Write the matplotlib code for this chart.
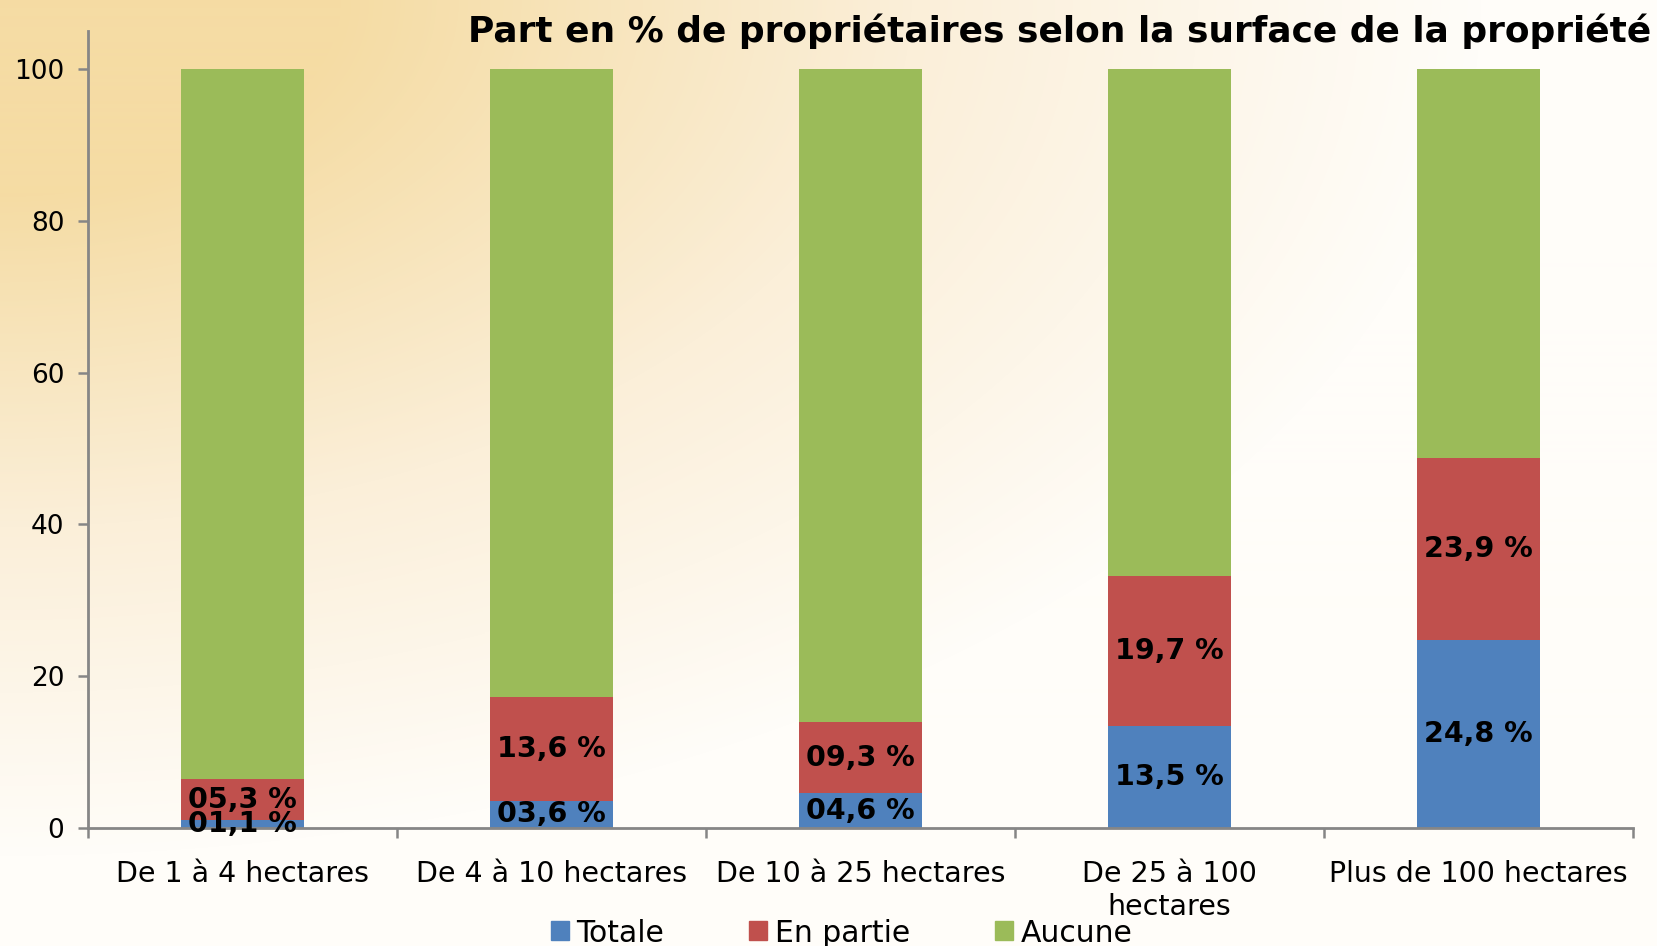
import numpy as np
import matplotlib.pyplot as plt
from matplotlib.colors import LinearSegmentedColormap
from matplotlib.patches import Patch

# Data
categories = ['De 1 à 4 hectares', 'De 4 à 10 hectares', 'De 10 à 25 hectares',
              'De 25 à 100\nhectares', 'Plus de 100 hectares']
totale = [1.1, 3.6, 4.6, 13.5, 24.8]
en_partie = [5.3, 13.6, 9.3, 19.7, 23.9]
series_names = ['Totale', 'En partie', 'Aucune']
colors = ['#4F81BD', '#C0504D', '#9BBB59']

aucune = [100 - t - p for t, p in zip(totale, en_partie)]

W, H = 1657, 946
fig = plt.figure(figsize=(W / 100, H / 100), dpi=100)

# background gradient (tan in the top-left corner fading to off-white)
bg = fig.add_axes([0, 0, 1, 1], zorder=-10)
yy, xx = np.mgrid[0:H, 0:W]
d = np.sqrt((xx / 1350.0) ** 2 + (yy / 780.0) ** 2)
d = np.clip((d - 0.25) / 0.85, 0, 1)
cmap = LinearSegmentedColormap.from_list('bg', ['#F5DCA4', '#FBEFD9', '#FFFDF9'])
bg.imshow(d, cmap=cmap, aspect='auto', extent=[0, 1, 0, 1], origin='upper')
bg.axis('off')

ax = fig.add_axes([88 / W, 1 - 828 / H, (1633 - 88) / W, (828 - 31) / H])
ax.patch.set_alpha(0)

x = np.arange(len(categories))
width = 0.395
b1 = ax.bar(x, totale, width, color=colors[0], label=series_names[0])
b2 = ax.bar(x, en_partie, width, bottom=totale, color=colors[1], label=series_names[1])
bottom3 = [t + p for t, p in zip(totale, en_partie)]
b3 = ax.bar(x, aucune, width, bottom=bottom3, color=colors[2], label=series_names[2])

def fmt(v):
    s = f'{v:04.1f}'.replace('.', ',')
    return s + ' %'

for bars, vals in [(b1, totale), (b2, en_partie)]:
    ax.bar_label(bars, labels=[fmt(v) for v in vals], label_type='center',
                 fontsize=20.5, fontweight='bold', color='black')

ax.set_xlim(-0.5, len(categories) - 0.5)
ax.set_ylim(0, 105)
ax.set_yticks([0, 20, 40, 60, 80, 100])
ax.set_xticks(x)
ax.set_xticklabels(categories, fontsize=20.5, linespacing=1.25)
ax.set_xticks(np.arange(len(categories) + 1) - 0.5, minor=True)
ax.tick_params(axis='x', which='major', length=0, pad=23)
ax.tick_params(axis='x', which='minor', length=7, width=1.8, color='#868686', direction='out')
ax.tick_params(axis='y', length=7, width=1.8, color='#868686', labelsize=19, pad=10)

for side in ['top', 'right']:
    ax.spines[side].set_visible(False)
for side in ['left', 'bottom']:
    ax.spines[side].set_color('#868686')
    ax.spines[side].set_linewidth(2)

# title, right aligned near the top edge
title = fig.text(1651 / W, 1 - 31 / H,
                 'Part en % de propriétaires selon la surface de la propriété',
                 ha='right', va='center', fontsize=24, fontweight='heavy')
fig.canvas.draw()
tw = title.get_window_extent().width
title.set_fontsize(24 * 1183 / tw)

handles = [Patch(color=c) for c in colors]
fig.legend(handles, series_names, loc='center left', ncol=3, frameon=False,
           bbox_to_anchor=(551 / W, 1 - 933 / H), fontsize=21.5,
           handlelength=0.6, handleheight=0.6, handletextpad=0.25,
           columnspacing=2.85, borderpad=0, borderaxespad=0)

fig.text(1237 / W, 1 - 944 / H, 'Source : FPF/CNPF-IDF', ha='left', va='top',
         fontsize=20)

fig.savefig('out.png', dpi=100)
